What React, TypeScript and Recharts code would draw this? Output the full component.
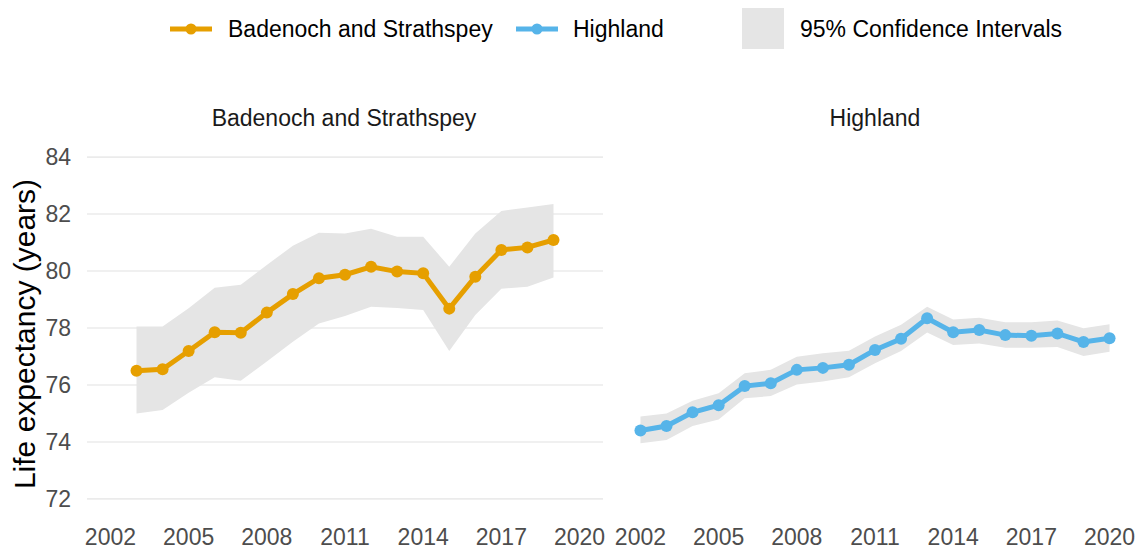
import React from 'react';
import { ComposedChart, Line, Area, XAxis, YAxis, CartesianGrid } from 'recharts';

// Badenoch and Strathspey
const bsYears = [2003, 2004, 2005, 2006, 2007, 2008, 2009, 2010, 2011, 2012, 2013, 2014, 2015, 2016, 2017, 2018, 2019];
const bsLE = [76.5, 76.55, 77.19, 77.85, 77.83, 78.54, 79.19, 79.75, 79.87, 80.15, 79.98, 79.92, 78.68, 79.8, 80.74, 80.83, 81.09];
const bsLower = [75.0, 75.12, 75.73, 76.27, 76.15, 76.82, 77.52, 78.16, 78.42, 78.75, 78.7, 78.63, 77.19, 78.46, 79.38, 79.45, 79.77];
const bsUpper = [78.05, 78.05, 78.69, 79.41, 79.52, 80.21, 80.89, 81.34, 81.32, 81.48, 81.2, 81.2, 80.15, 81.32, 82.11, 82.23, 82.35];

// Highland
const hlYears = [2002, 2003, 2004, 2005, 2006, 2007, 2008, 2009, 2010, 2011, 2012, 2013, 2014, 2015, 2016, 2017, 2018, 2019, 2020];
const hlLE = [74.4, 74.56, 75.04, 75.29, 75.96, 76.06, 76.53, 76.6, 76.71, 77.23, 77.62, 78.34, 77.85, 77.93, 77.75, 77.73, 77.81, 77.51, 77.64];
const hlLower = [73.95, 74.07, 74.56, 74.79, 75.53, 75.61, 76.02, 76.12, 76.27, 76.76, 77.19, 77.84, 77.4, 77.46, 77.31, 77.31, 77.33, 77.02, 77.17];
const hlUpper = [74.89, 75.0, 75.45, 75.71, 76.41, 76.53, 76.99, 77.11, 77.2, 77.7, 78.11, 78.75, 78.3, 78.36, 78.2, 78.2, 78.26, 77.99, 78.13];

const xTicks = [2002, 2005, 2008, 2011, 2014, 2017, 2020];
const yTicks = [72, 74, 76, 78, 80, 82, 84];
const panelTitles = ['Badenoch and Strathspey', 'Highland'];
const legendLabels = ['Badenoch and Strathspey', 'Highland', '95% Confidence Intervals'];
const yTitle = 'Life expectancy (years)';

const ORANGE = '#E69F00';
const BLUE = '#56B4E9';
const CI = '#e5e5e5';
const FONT = '"Liberation Sans", Arial, sans-serif';

const build = (years: number[], le: number[], lo: number[], hi: number[]) =>
  years.map((y, i) => ({ year: y, le: le[i], ci: [lo[i], hi[i]] }));

const bsData = build(bsYears, bsLE, bsLower, bsUpper);
const hlData = build(hlYears, hlLE, hlLower, hlUpper);

const tickStyle = { fontSize: 23, fill: '#4d4d4d', fontFamily: FONT };

function Panel({ data, color, showY, width, marginLeft }: any) {
  return (
    <ComposedChart
      width={width}
      height={553}
      data={data}
      margin={{ top: 140, right: 8, bottom: 7, left: marginLeft }}
    >
      <CartesianGrid vertical={false} stroke="#ebebeb" strokeWidth={1.6} syncWithTicks />
      <XAxis
        dataKey="year"
        type="number"
        domain={[2001.1, 2020.9]}
        ticks={xTicks}
        allowDataOverflow
        axisLine={false}
        tickLine={false}
        tickSize={0}
        tickMargin={13}
        height={30}
        tick={tickStyle}
        interval={0}
      />
      <YAxis
        type="number"
        domain={[71.4, 84.6]}
        ticks={yTicks}
        allowDataOverflow
        axisLine={false}
        tickLine={false}
        tickSize={0}
        tickMargin={16}
        width={showY ? 87 : 0}
        tick={showY ? tickStyle : false}
        interval={0}
      />
      <Area
        dataKey="ci"
        stroke="none"
        fill={CI}
        fillOpacity={1}
        isAnimationActive={false}
        activeDot={false}
      />
      <Line
        dataKey="le"
        stroke={color}
        strokeWidth={5}
        dot={{ r: 6, fill: color, stroke: color, strokeWidth: 0 }}
        activeDot={false}
        isAnimationActive={false}
      />
    </ComposedChart>
  );
}

export default function App() {
  return (
    <div style={{ position: 'absolute', left: 0, top: 0, width: 1141, height: 553, background: '#fff', fontFamily: FONT }}>
      <svg width={1141} height={553} style={{ position: 'absolute', left: 0, top: 0 }}>
        {/* legend */}
        <line x1={170} y1={29} x2={212} y2={29} stroke={ORANGE} strokeWidth={5} />
        <circle cx={191} cy={29} r={5.5} fill={ORANGE} />
        <text x={228} y={29} dominantBaseline="central" fontSize={23} fill="#000" fontFamily={FONT}>{legendLabels[0]}</text>
        <line x1={516} y1={29} x2={558} y2={29} stroke={BLUE} strokeWidth={5} />
        <circle cx={537} cy={29} r={5.5} fill={BLUE} />
        <text x={573} y={29} dominantBaseline="central" fontSize={23} fill="#000" fontFamily={FONT}>{legendLabels[1]}</text>
        <rect x={742} y={8} width={42} height={41} fill={CI} />
        <text x={800} y={29} dominantBaseline="central" fontSize={23} fill="#000" fontFamily={FONT}>{legendLabels[2]}</text>
        {/* strip titles */}
        <text x={344} y={118} textAnchor="middle" dominantBaseline="central" fontSize={23} fill="#1a1a1a" fontFamily={FONT}>{panelTitles[0]}</text>
        <text x={875} y={118} textAnchor="middle" dominantBaseline="central" fontSize={23} fill="#1a1a1a" fontFamily={FONT}>{panelTitles[1]}</text>
        {/* y title */}
        <text x={24} y={334} textAnchor="middle" dominantBaseline="central" fontSize={30} fill="#000" fontFamily={FONT} transform="rotate(-90 24 334)">{yTitle}</text>
      </svg>
      <div style={{ position: 'absolute', left: 0, top: 0 }}>
        <Panel data={bsData} color={ORANGE} showY={true} width={611} marginLeft={0} />
      </div>
      <div style={{ position: 'absolute', left: 610, top: 0 }}>
        <Panel data={hlData} color={BLUE} showY={false} width={531} marginLeft={7} />
      </div>
    </div>
  );
}
